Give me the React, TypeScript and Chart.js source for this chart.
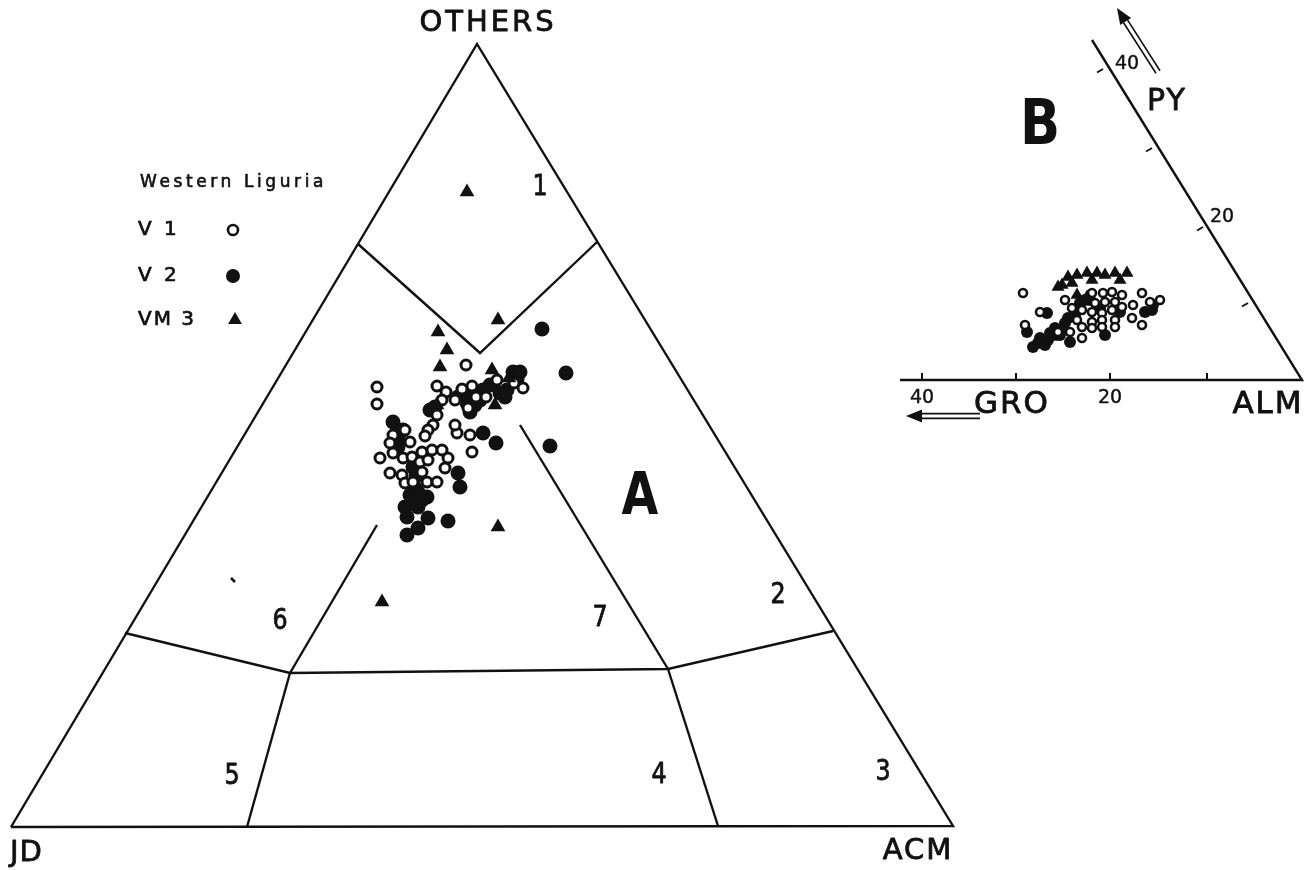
import React, { useEffect, useRef } from "react";
import { Chart, registerables } from "chart.js";
Chart.register(...registerables);

const W = 1313;
const H = 870;

type Pt = [number, number];

// ---- Diagram A (OTHERS / JD / ACM) : sample positions ----
const aV1: Pt[] = [
  [466, 365], [377, 387], [377, 404], [437, 386], [446, 392], [462, 389], [472, 386], [455, 400],
  [476, 397], [486, 397], [497, 380], [514, 383], [523, 388], [468, 408], [442, 400], [437, 415],
  [433, 425], [428, 430], [425, 436], [405, 430], [393, 435], [410, 442], [390, 443], [457, 433],
  [470, 435], [472, 452], [380, 458], [393, 453], [403, 458], [412, 457], [422, 452], [432, 450],
  [442, 450], [420, 462], [428, 460], [448, 458], [445, 468], [390, 473], [402, 475], [405, 483],
  [422, 472], [413, 482], [427, 482], [437, 482], [455, 425],
];
const aV2: Pt[] = [
  [542, 329], [566, 373], [550, 446], [513, 372], [517, 379], [507, 390], [505, 397], [483, 390],
  [465, 393], [475, 405], [458, 397], [467, 403], [435, 407], [430, 410], [393, 422], [403, 430],
  [398, 447], [413, 467], [483, 433], [496, 443], [458, 473], [460, 487], [410, 495], [418, 492],
  [427, 497], [415, 488], [405, 507], [418, 507], [407, 517], [428, 518], [448, 521], [418, 528],
  [407, 535], [490, 385], [520, 372], [500, 393], [480, 400], [470, 412], [398, 438], [416, 476],
  [412, 502], [422, 500],
];
const aVM3: Pt[] = [
  [467, 192], [438, 332], [447, 350], [440, 367], [498, 320], [492, 370], [437, 405], [495, 405],
  [509, 378], [498, 527], [382, 602],
];

// ---- Diagram B (PY / GRO / ALM) ----
const bV1: Pt[] = [
  [1023, 293], [1040, 312], [1025, 325], [1065, 300], [1072, 308], [1092, 293], [1103, 293], [1112, 292],
  [1122, 295], [1142, 293], [1160, 300], [1095, 303], [1105, 302], [1115, 302], [1092, 312], [1102, 313],
  [1112, 310], [1122, 307], [1133, 305], [1082, 310], [1077, 320], [1092, 322], [1102, 320], [1115, 320],
  [1132, 318], [1142, 325], [1070, 332], [1082, 327], [1092, 328], [1102, 327], [1115, 327], [1058, 332],
  [1082, 338], [1150, 302],
];
const bV2: Pt[] = [
  [1033, 347], [1038, 343], [1048, 340], [1027, 332], [1047, 313], [1055, 328], [1065, 323], [1070, 342],
  [1105, 335], [1152, 310], [1153, 305], [1060, 335], [1085, 300], [1075, 315], [1040, 338], [1050, 333],
  [1045, 345], [1062, 330], [1068, 318], [1080, 303], [1090, 300], [1100, 308], [1120, 312], [1145, 312],
];
const bVM3: Pt[] = [
  [1068, 277], [1077, 275], [1087, 273], [1097, 273], [1105, 275], [1115, 273], [1127, 273], [1062, 285],
  [1058, 287], [1077, 295], [1087, 297], [1052, 337], [1042, 340], [1072, 283], [1092, 280], [1120, 280],
];

// ---- Field boundaries ----
const triA: Pt[] = [[11, 827], [953, 826], [477, 44], [11, 827]];
const field1: Pt[] = [[358, 244], [480, 353], [597, 242]];
const field7L: Pt[] = [[377, 525], [290, 673]];
const field7R: Pt[] = [[520, 425], [668, 669]];
const fieldMid: Pt[] = [[125, 633], [290, 673], [668, 669], [833, 631]];
const field45: Pt[] = [[290, 673], [247, 827]];
const field34: Pt[] = [[668, 669], [718, 826]];
const speck: Pt[] = [[231, 578], [235, 582]];
const axesB: Pt[] = [[900, 380], [1302, 380], [1092, 40]];

// ---- Tick labels / names ----
const groTicks = ["40", "20"];
const pyTicks = ["40", "20"];
const fieldNames = ["1", "2", "3", "4", "5", "6", "7"];
const seriesNames = ["V 1", "V 2", "VM 3"];

const toXY = (a: Pt[]) => a.map(([x, y]) => ({ x, y }));

const lineDs = (pts: Pt[], w = 2.4) => ({
  data: toXY(pts),
  showLine: true,
  borderColor: "#111",
  borderWidth: w,
  borderJoinStyle: "miter" as const,
  pointRadius: 0,
  fill: false,
  tension: 0,
  order: 10,
  clip: false as any,
});

const ptDs = (pts: Pt[], style: string, r: number, fill: string, bw: number, order: number) => ({
  data: toXY(pts),
  showLine: false,
  pointStyle: style,
  pointRadius: r,
  pointBackgroundColor: fill,
  pointBorderColor: "#111",
  pointBorderWidth: bw,
  order,
  clip: false as any,
});

type Lbl = { t: string; x: number; y: number; s: number; b?: boolean; al?: CanvasTextAlign; sp?: number; sx?: number; w?: number };

const labels: Lbl[] = [
  { t: "OTHERS", x: 488, y: 23, s: 29, sp: 3, w: 0.8 },
  { t: "JD", x: 10, y: 853, s: 29, al: "left", sp: 1, w: 0.8 },
  { t: "ACM", x: 918, y: 851, s: 29, sp: 2, w: 0.8 },
  { t: fieldNames[0], x: 540, y: 188, s: 28, sx: 0.85, w: 0.8 },
  { t: fieldNames[1], x: 778, y: 596, s: 28, sx: 0.85, w: 0.8 },
  { t: fieldNames[2], x: 883, y: 773, s: 28, sx: 0.85, w: 0.8 },
  { t: fieldNames[3], x: 659, y: 776, s: 28, sx: 0.85, w: 0.8 },
  { t: fieldNames[4], x: 232, y: 777, s: 28, sx: 0.85, w: 0.8 },
  { t: fieldNames[5], x: 280, y: 622, s: 28, sx: 0.85, w: 0.8 },
  { t: fieldNames[6], x: 600, y: 619, s: 28, sx: 0.85, w: 0.8 },
  { t: "A", x: 640, y: 499, s: 58, b: true, sx: 0.82 },
  { t: "Western Liguria", x: 140, y: 183, s: 17, al: "left", sp: 3.6, w: 0.6 },
  { t: seriesNames[0], x: 138, y: 230, s: 20, al: "left", sp: 3, w: 0.7 },
  { t: seriesNames[1], x: 138, y: 276, s: 20, al: "left", sp: 3, w: 0.7 },
  { t: seriesNames[2], x: 138, y: 320, s: 20, al: "left", sp: 2, w: 0.7 },
  { t: "B", x: 1040, y: 128, s: 62, b: true, sx: 0.85 },
  { t: "PY", x: 1167, y: 102, s: 30, sp: 2, w: 0.8 },
  { t: pyTicks[0], x: 1127, y: 64, s: 19, w: 0.4 },
  { t: pyTicks[1], x: 1222, y: 217, s: 19, w: 0.4 },
  { t: groTicks[0], x: 922, y: 398, s: 19, w: 0.4 },
  { t: groTicks[1], x: 1110, y: 398, s: 19, w: 0.4 },
  { t: "GRO", x: 1012, y: 405, s: 31, sp: 2, w: 0.8 },
  { t: "ALM", x: 1268, y: 405, s: 31, sp: 2, w: 0.8 },
];

const groTickX = [922, 1016, 1110, 1207];
const pyTickPts: Pt[] = [[1103, 69], [1152, 148], [1203, 227], [1248, 303]];

const drawPlugin = {
  id: "diagramText",
  afterDatasetsDraw(chart: any) {
    const { ctx } = chart;
    const xs = chart.scales.x;
    const ys = chart.scales.y;
    const px = (x: number) => xs.getPixelForValue(x);
    const py = (y: number) => ys.getPixelForValue(y);
    ctx.save();
    ctx.fillStyle = "#111";
    ctx.strokeStyle = "#111";
    for (const l of labels) {
      ctx.save();
      ctx.font = `${l.b ? "bold " : ""}${l.s}px "DejaVu Sans"`;
      (ctx as any).letterSpacing = `${l.sp || 0}px`;
      ctx.textAlign = l.al || "center";
      ctx.textBaseline = "middle";
      const sx = l.sx || 1;
      ctx.translate(px(l.x), py(l.y));
      ctx.scale(sx, 1);
      ctx.fillText(l.t, 0, 0);
      if (l.w) {
        ctx.lineWidth = l.w;
        ctx.lineJoin = "round";
        ctx.strokeText(l.t, 0, 0);
      }
      ctx.restore();
    }
    ctx.lineWidth = 2;
    ctx.beginPath();
    for (const x of groTickX) {
      ctx.moveTo(px(x), py(380));
      ctx.lineTo(px(x), py(373));
    }
    for (const [x, y] of pyTickPts) {
      ctx.moveTo(px(x), py(y));
      ctx.lineTo(px(x - 6), py(y + 3.5));
    }
    ctx.stroke();
    const arrow = (tail: Pt, tip: Pt) => {
      const tx = px(tail[0]), ty = py(tail[1]);
      const hx = px(tip[0]), hy = py(tip[1]);
      const dx = hx - tx, dy = hy - ty;
      const len = Math.hypot(dx, dy);
      const ux = dx / len, uy = dy / len;
      const nx = -uy, ny = ux;
      const headL = 16, headW = 6.5, off = 2.4;
      const bx = hx - ux * headL, by = hy - uy * headL;
      ctx.lineWidth = 1.6;
      ctx.beginPath();
      ctx.moveTo(tx + nx * off, ty + ny * off);
      ctx.lineTo(bx + nx * off, by + ny * off);
      ctx.moveTo(tx - nx * off, ty - ny * off);
      ctx.lineTo(bx - nx * off, by - ny * off);
      ctx.stroke();
      ctx.beginPath();
      ctx.moveTo(hx, hy);
      ctx.lineTo(bx + nx * headW, by + ny * headW);
      ctx.lineTo(bx - nx * headW, by - ny * headW);
      ctx.closePath();
      ctx.fill();
    };
    arrow([1158, 72], [1117, 8]);
    arrow([980, 416], [906, 416]);
    ctx.restore();
  },
};

export default function App() {
  const ref = useRef<HTMLCanvasElement>(null);
  useEffect(() => {
    const datasets: any[] = [
      lineDs(triA),
      lineDs(field1),
      lineDs(field7L),
      lineDs(field7R),
      lineDs(fieldMid),
      lineDs(field45),
      lineDs(field34),
      lineDs(speck, 2.5),
      lineDs(axesB),
      ptDs(aV2, "circle", 7.5, "#111", 0, 3),
      ptDs(aV1, "circle", 5, "#fff", 3, 2),
      ptDs(aVM3, "triangle", 8.5, "#111", 0, 1),
      ptDs(bV2, "circle", 6, "#111", 0, 3),
      ptDs(bV1, "circle", 4, "#fff", 2.6, 2),
      ptDs(bVM3, "triangle", 7.5, "#111", 0, 1),
      ptDs([[233, 230]], "circle", 5, "#fff", 2.6, 2),
      ptDs([[233, 276]], "circle", 7, "#111", 0, 2),
      ptDs([[235, 320]], "triangle", 8, "#111", 0, 2),
    ];
    const chart = new Chart(ref.current as HTMLCanvasElement, {
      type: "scatter",
      data: { datasets },
      options: {
        responsive: false,
        maintainAspectRatio: false,
        animation: false,
        events: [],
        layout: { padding: 0, autoPadding: false },
        plugins: { legend: { display: false }, tooltip: { enabled: false } },
        scales: {
          x: { type: "linear", min: 0, max: W, display: false },
          y: { type: "linear", min: 0, max: H, reverse: true, display: false },
        },
      },
      plugins: [drawPlugin],
    } as any);
    return () => chart.destroy();
  }, []);
  return (
    <div style={{ position: "fixed", left: 0, top: 0, width: W, height: H, background: "#fff" }}>
      <canvas ref={ref} width={W} height={H} style={{ display: "block" }} />
    </div>
  );
}
